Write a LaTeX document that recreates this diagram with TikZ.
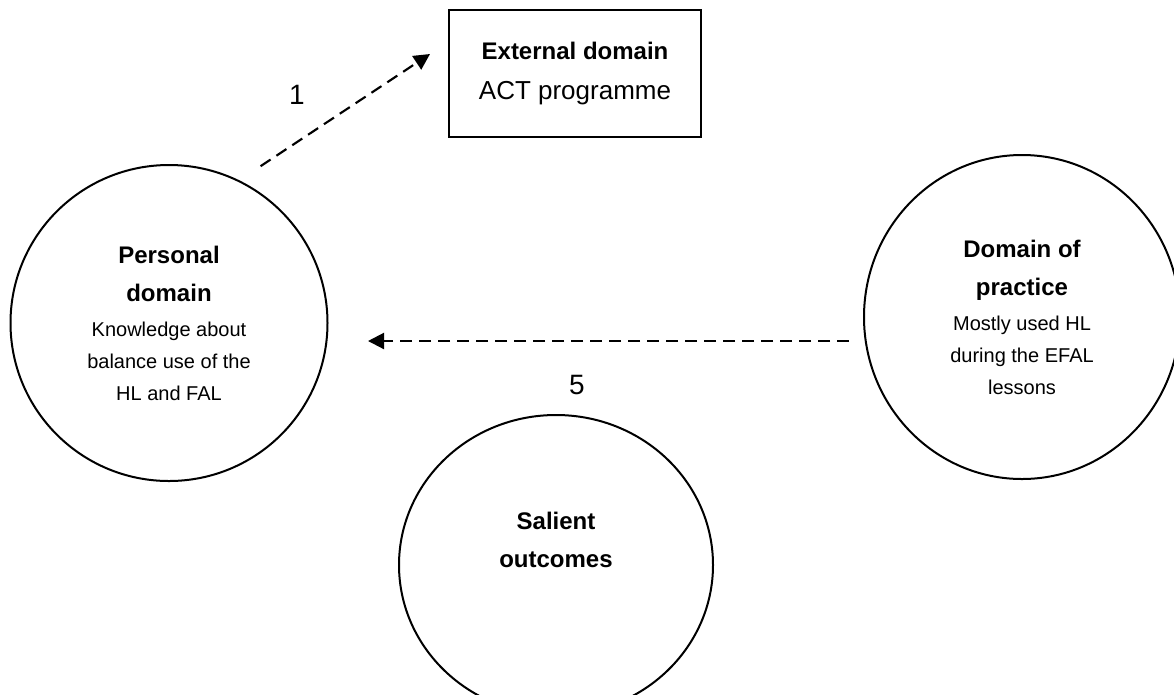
\documentclass[tikz,border=0pt]{standalone}
\usepackage{fontspec}
\setmainfont{Liberation Sans}
\usetikzlibrary{shapes.geometric,arrows.meta}
\newcommand\headfont{\fontsize{18}{28.5}\selectfont\bfseries}
\newcommand\notefont{\fontsize{15}{24}\selectfont}
\newcommand\actfont{\fontsize{19.5}{30}\selectfont}
\newcommand\numfont{\fontsize{21}{25}\selectfont}
\tikzset{
  sphere/.style={ellipse,draw,line width=1.5pt,align=center,inner sep=0pt,font=\notefont},
  extbox/.style={rectangle,draw,line width=1.5pt,align=center,font=\actfont,
    minimum width=189pt,minimum height=95.25pt},
  flow/.style={line width=1.6pt,dash pattern=on 9pt off 5.25pt,
    -{Triangle[length=12pt,width=12pt]}},
  numlabel/.style={font=\numfont}
}
\begin{document}
\begin{tikzpicture}[x=0.75pt,y=-0.75pt]
  \useasboundingbox (0,0) rectangle (1174,694);
  % the three domains and the outcomes
  \node[sphere,minimum width=237.75pt,minimum height=237pt](personal) at (169,323)
    {{\headfont Personal}\\[4.5pt]{\headfont domain}\\[2.25pt]Knowledge about\\balance use of the\\HL and FAL};
  \node[sphere,minimum width=237pt,minimum height=243pt](practice) at (1022,317)
    {{\headfont Domain of}\\[4.5pt]{\headfont practice}\\[2.25pt]Mostly used HL\\during the EFAL\\lessons};
  \node[extbox](external) at (575,73.5)
    {{\headfont External domain}\\ACT programme};
  \node[sphere,minimum width=235.5pt,minimum height=225pt](salient) at (556,565){};
  \node[align=center,font=\headfont](salienttext) at (556,540){Salient\\outcomes};
  % links
  \draw[flow] ([shift={(12,-19)}]personal.60) -- ([shift={(-18,-19.5)}]external.west);
  \draw[flow] ([shift={(-14,24)}]practice.west) -- ([shift={(39.5,18)}]personal.east);
  \node[numlabel](one) at (297,95){1};
  \node[numlabel](five) at (577,385){5};
\end{tikzpicture}
\end{document}
